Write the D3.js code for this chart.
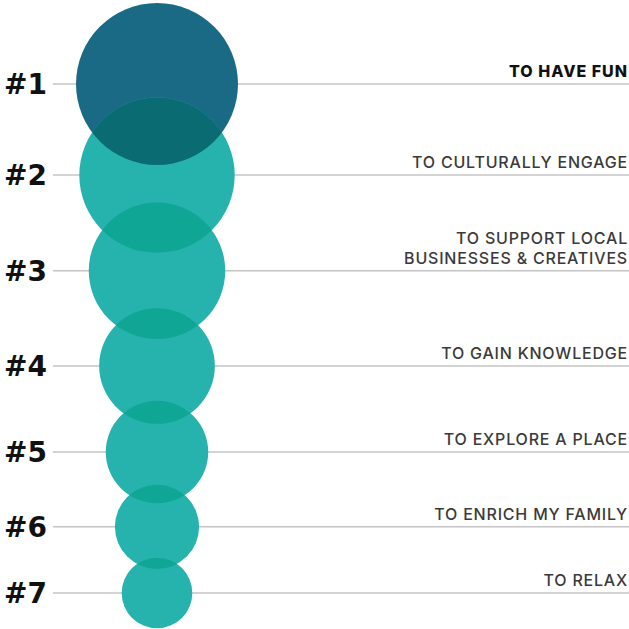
<!DOCTYPE html>
<meta charset="utf-8">
<style>
body { margin: 0; background: #fff; }
svg { display: block; }
.rank { font-family: "DejaVu Sans", sans-serif; font-weight: bold; font-size: 28px; fill: #111; }
.reason { font-family: Inter, "Open Sans", sans-serif; font-weight: 500; font-size: 16px; letter-spacing: 0.8px; fill: #3a3a3a; }
.reason.top { font-weight: 800; fill: #111; letter-spacing: 1px; }
.rule { stroke: #c4c4c4; stroke-width: 1.5; }
</style>
<svg width="629" height="629"></svg>
<script src="https://d3js.org/d3.v7.min.js"></script>
<script>

// rank order, from the top
var ranks = ["#1", "#2", "#3", "#4", "#5", "#6", "#7"];
var reasons = [
  ["TO HAVE FUN"],
  ["TO CULTURALLY ENGAGE"],
  ["TO SUPPORT LOCAL", "BUSINESSES & CREATIVES"],
  ["TO GAIN KNOWLEDGE"],
  ["TO EXPLORE A PLACE"],
  ["TO ENRICH MY FAMILY"],
  ["TO RELAX"]
];
// relative bubble size (area, top reason = 100)
var scores = [100, 92, 71, 51, 40, 27, 19];
// vertical place of each row, 0 = first row, 100 = last row
var rowPos = [0, 17.9, 36.7, 55.4, 72.3, 87.0, 100];

var fills = { first: "#1b6a85", rest: "#26b2ad", firstOverlap: "#0a6b73", restOverlap: "#10a696" };

var svg = d3.select("svg"),
    width = +svg.attr("width"),
    height = +svg.attr("height");

var data = ranks.map(function(d, i) {
  return { rank: d, reason: reasons[i], score: scores[i], pos: rowPos[i], i: i };
});

var y = d3.scaleLinear().domain([0, 100]).range([84, 593]);
var r = d3.scaleSqrt().domain([0, 100]).range([0, 81]);
var cx = 157;

// guide lines
svg.selectAll(".rule")
  .data(data)
  .enter()
  .append("line")
  .attr("class", "rule")
  .attr("x1", 53)
  .attr("x2", width)
  .attr("y1", function(d) { return y(d.pos); })
  .attr("y2", function(d) { return y(d.pos); });

var defs = svg.append("defs");
defs.selectAll("clipPath")
  .data(data)
  .enter()
  .append("clipPath")
  .attr("id", function(d) { return "clip" + d.i; })
  .append("circle")
  .attr("cx", cx)
  .attr("cy", function(d) { return y(d.pos); })
  .attr("r", function(d) { return r(d.score); });

svg.selectAll(".bubble")
  .data(data)
  .enter()
  .append("circle")
  .attr("class", "bubble")
  .attr("cx", cx)
  .attr("cy", function(d) { return y(d.pos); })
  .attr("r", function(d) { return r(d.score); })
  .attr("fill", function(d) { return d.i == 0 ? fills.first : fills.rest; });

// where a bubble overlaps the one above it
svg.selectAll(".lens")
  .data(data.slice(1))
  .enter()
  .append("circle")
  .attr("class", "lens")
  .attr("cx", cx)
  .attr("cy", function(d) { return y(d.pos); })
  .attr("r", function(d) { return r(d.score); })
  .attr("clip-path", function(d) { return "url(#clip" + (d.i - 1) + ")"; })
  .attr("fill", function(d) { return d.i == 1 ? fills.firstOverlap : fills.restOverlap; });

svg.selectAll(".rank")
  .data(data)
  .enter()
  .append("text")
  .attr("class", "rank")
  .attr("x", 4)
  .attr("y", function(d) { return y(d.pos); })
  .attr("dy", "0.36em")
  .text(function(d) { return d.rank; });

var labels = svg.selectAll(".reason")
  .data(data)
  .enter()
  .append("text")
  .attr("class", function(d) { return d.i == 0 ? "reason top" : "reason"; })
  .attr("text-anchor", "end")
  .attr("x", 628)
  .attr("y", function(d) { return y(d.pos) - 7; });

labels.selectAll("tspan")
  .data(function(d) { return d.reason.map(function(t, k) { return { t: t, k: k, n: d.reason.length }; }); })
  .enter()
  .append("tspan")
  .attr("x", 628)
  .attr("dy", function(t) { return t.k == 0 ? -(t.n - 1) * 20 : 20; })
  .text(function(t) { return t.t; });

</script>
